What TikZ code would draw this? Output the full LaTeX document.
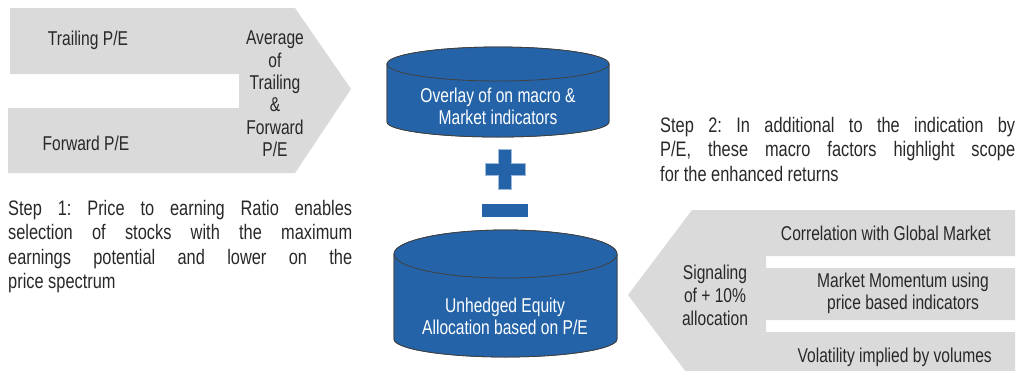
\documentclass[tikz,border=0pt]{standalone}
\usepackage{fontspec}
\setmainfont{Liberation Sans}[FakeStretch=0.78]
\usetikzlibrary{positioning}
\definecolor{panelgray}{RGB}{218,218,218}
\definecolor{drumblue}{RGB}{36,99,168}
\definecolor{inkgray}{RGB}{40,40,40}
\frenchspacing

\begin{document}
\begin{tikzpicture}[x=1pt,y=-1pt]
	\tikzstyle{every node}=[font=\fontsize{20}{24.5}\selectfont, text=inkgray, inner sep=0pt]
	\tikzstyle{panel}=[fill=panelgray, draw=none]
	\tikzstyle{drum}=[fill=drumblue, draw=black!75, line width=0.8pt]
	\tikzstyle{drumtext}=[text=white, align=center, font=\fontsize{20}{22}\selectfont]
	\tikzstyle{sign}=[fill=drumblue, draw=drumblue!45!white, line width=0.6pt]
	\tikzstyle{note}=[align=justify, anchor=north west, font=\fontsize{21}{24.5}\selectfont]

	\useasboundingbox (0,0) rectangle (1031,370);
	\clip (0,0) rectangle (1031,370);

	% left chevron
	\fill[panel] (10,8) -- (295,8) -- (351,89) -- (295,173) -- (8,173) -- (8,108)
		-- (239,108) -- (239,74) -- (10,74) -- cycle;
	\node (trailing) at (88,40) {Trailing P/E};
	\node (forward) at (86,143) {Forward P/E};
	\node[align=center, font=\fontsize{20}{22.4}\selectfont] (average) at (275,94)
		{Average\\of\\Trailing\\\&\\Forward\\P/E};

	% right chevron
	\fill[panel] (692,210) -- (1015,210) -- (1015,256) -- (766,256) -- (766,268)
		-- (1015,268) -- (1015,320) -- (766,320) -- (766,332) -- (1015,332)
		-- (1015,380) -- (692,380) -- (628,295) -- cycle;
	\node[align=center, font=\fontsize{20}{23}\selectfont] (signaling) at (715,295)
		{Signaling\\of + 10\%\\allocation};
	\node[anchor=east] (correlation) at (991,233) {Correlation with Global Market};
	\node[align=center, font=\fontsize{20}{22}\selectfont] (momentum) at (903,293)
		{Market Momentum using\\price based indicators};
	\node[anchor=east] (volatility) at (992,357) {Volatility implied by volumes};

	% drums
	\fill[drum] (387,64) -- (387,122) arc[start angle=180, end angle=0, x radius=111, y radius=15]
		-- (609,64) arc[start angle=0, end angle=-180, x radius=111, y radius=17] -- cycle;
	\draw[drum] (387,64) -- (387,122) arc[start angle=180, end angle=0, x radius=111, y radius=15]
		-- (609,64);
	\draw[drum] (498,64) ellipse[x radius=111, y radius=17];
	\node[drumtext] (overlay) at (498,106) {Overlay of on macro \&\\Market indicators};

	\fill[drum] (394,254) -- (394,339) arc[start angle=180, end angle=0, x radius=111.5, y radius=18]
		-- (617,254) arc[start angle=0, end angle=-180, x radius=111.5, y radius=24] -- cycle;
	\draw[drum] (394,254) -- (394,339) arc[start angle=180, end angle=0, x radius=111.5, y radius=18]
		-- (617,254);
	\draw[drum] (505.5,254) ellipse[x radius=111.5, y radius=24];
	\node[drumtext] (unhedged) at (505,316) {Unhedged Equity\\Allocation based on P/E};

	% plus and minus
	\draw[sign] (498,149) -- (511,149) -- (511,163) -- (525,163) -- (525,175) -- (511,175)
		-- (511,189) -- (498,189) -- (498,175) -- (485,175) -- (485,163) -- (498,163) -- cycle;
	\fill[drumblue] (482,204) rectangle (528,217);

	% notes
	\node[note, text width=344pt] (step1) at (8,200)
		{Step 1: Price to earning Ratio enables\linebreak selection of stocks with the maximum\linebreak
		earnings potential and lower on the\linebreak price spectrum};
	\node[note, text width=355pt] (step2) at (660,117)
		{Step 2: In additional to the indication by\linebreak P/E, these macro factors highlight scope\linebreak
		for the enhanced returns};
\end{tikzpicture}
\end{document}
